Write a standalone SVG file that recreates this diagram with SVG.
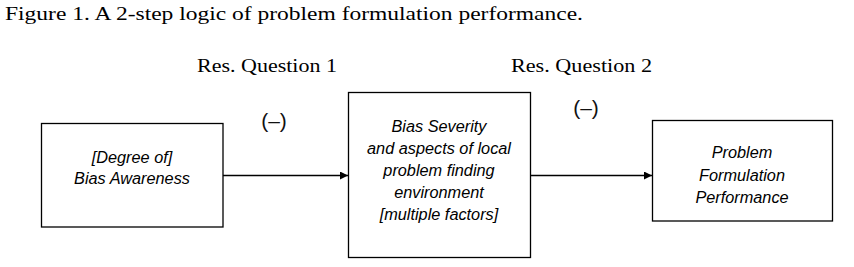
<svg xmlns="http://www.w3.org/2000/svg" width="854" height="267" viewBox="0 0 854 267">
<defs>
<style>
.box{fill:#fff;stroke:#000;stroke-width:1.3}
.nt{font-family:"Liberation Sans",Arial,sans-serif;font-style:italic;font-size:16.3px;fill:#000;text-anchor:middle}
.serif{font-family:"Liberation Serif","Times New Roman",serif;fill:#000}
.edge{stroke:#000;stroke-width:1.3;fill:none}
.sign{font-family:"Liberation Sans",Arial,sans-serif;font-size:21px;fill:#111;text-anchor:middle}
</style>
<marker id="ah" viewBox="0 0 10 10" refX="10" refY="5" markerWidth="8" markerHeight="8" markerUnits="userSpaceOnUse" orient="auto">
<path d="M0,0 L10,5 L0,10 z" fill="#000"/>
</marker>
</defs>
<rect width="854" height="267" fill="#fff"/>
<text class="serif" x="5" y="20" font-size="18.5" textLength="578" lengthAdjust="spacingAndGlyphs">Figure 1. A 2-step logic of problem formulation performance.</text>
<text class="serif" x="197" y="72" font-size="18.5" textLength="140" lengthAdjust="spacingAndGlyphs">Res. Question 1</text>
<text class="serif" x="511" y="72" font-size="18.5" textLength="141" lengthAdjust="spacingAndGlyphs">Res. Question 2</text>
<g id="connectors">
<line class="edge" x1="223" y1="175.5" x2="348" y2="175.5" marker-end="url(#ah)"/>
<line class="edge" x1="531" y1="175.5" x2="652" y2="175.5" marker-end="url(#ah)"/>
<text class="sign" x="274" y="128">(–)</text>
<text class="sign" x="586" y="115">(–)</text>
</g>
<g id="node-awareness">
<rect class="box" x="41.5" y="123.5" width="181.5" height="103.5"/>
<text class="nt" x="132" y="163">[Degree of]</text>
<text class="nt" x="132" y="184">Bias Awareness</text>
</g>
<g id="node-severity">
<rect class="box" x="348.5" y="92.5" width="182" height="165"/>
<text class="nt" x="439" y="131.5">Bias Severity</text>
<text class="nt" x="439" y="153.5">and aspects of local</text>
<text class="nt" x="439" y="175.5">problem finding</text>
<text class="nt" x="439" y="197.5">environment</text>
<text class="nt" x="439" y="219.5">[multiple factors]</text>
</g>
<g id="node-performance">
<rect class="box" x="652.5" y="120.5" width="180" height="100.5"/>
<text class="nt" x="742" y="158">Problem</text>
<text class="nt" x="742" y="180.5">Formulation</text>
<text class="nt" x="742" y="203">Performance</text>
</g>
</svg>
